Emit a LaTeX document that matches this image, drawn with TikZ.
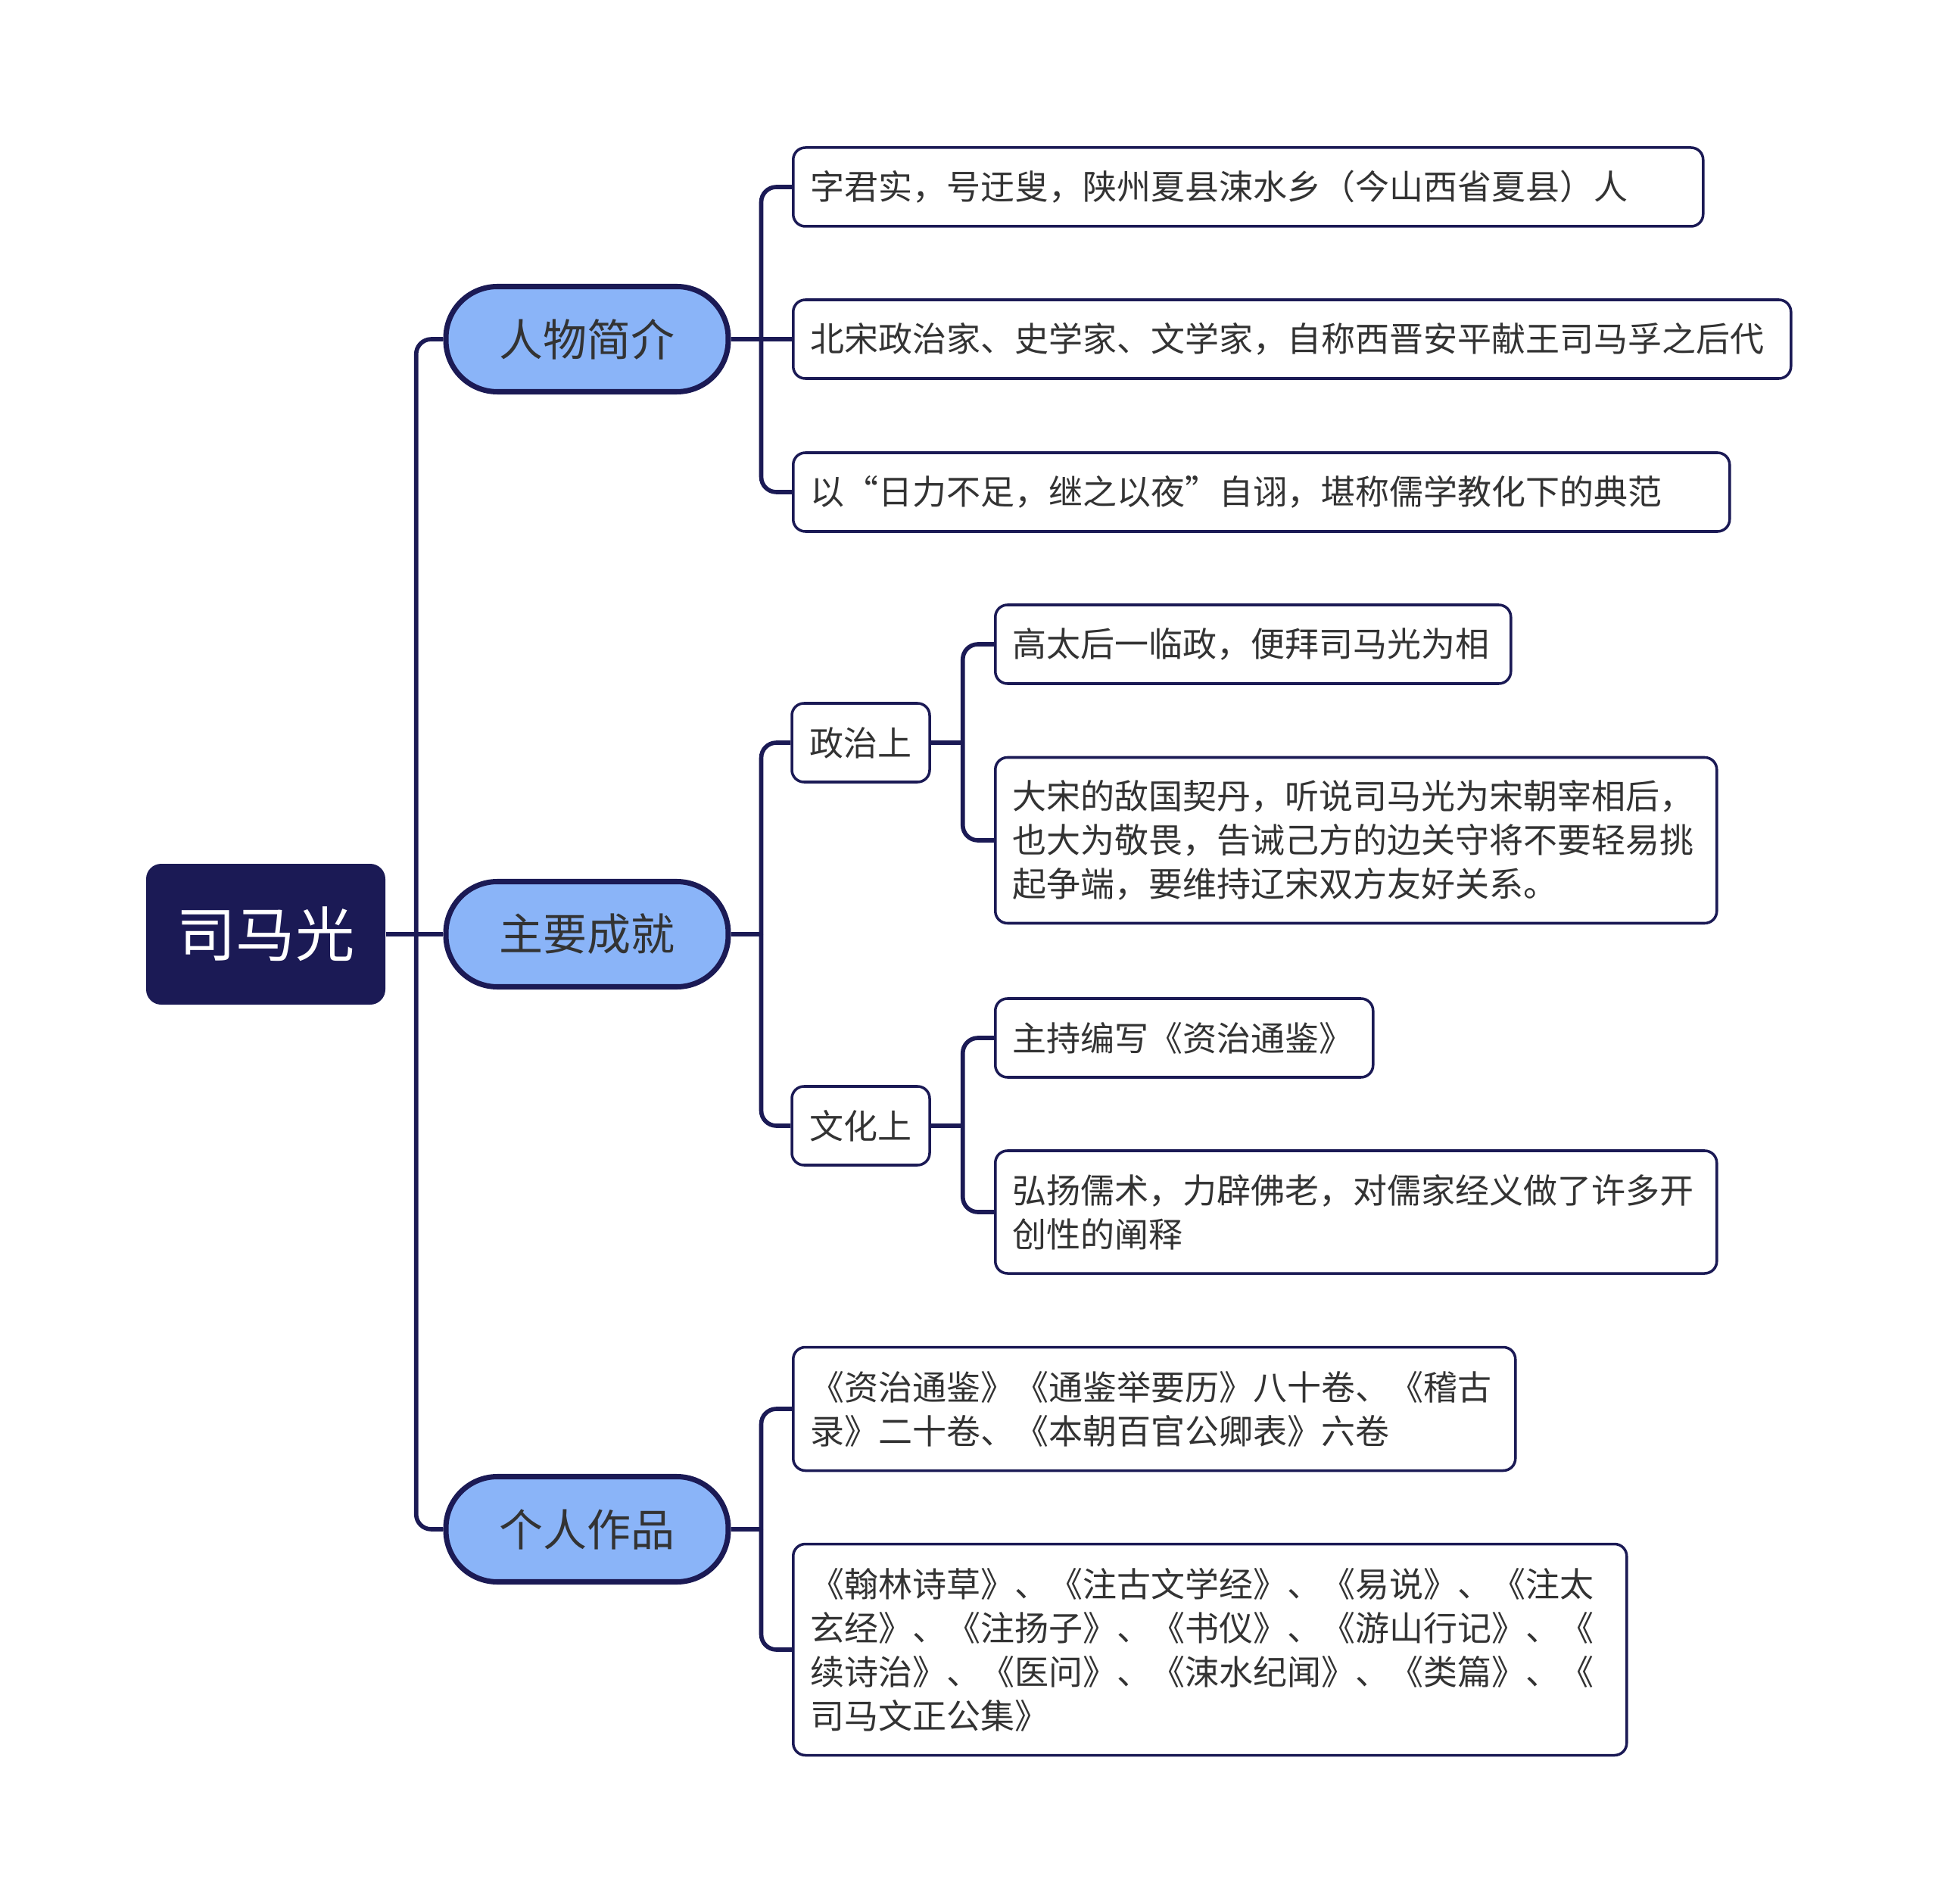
\documentclass[tikz,border=0pt]{standalone}
\usepackage{fontspec}
\newfontfamily\cjk{Noto Sans CJK SC}
\definecolor{navy}{HTML}{1B1A55}
\definecolor{pillblue}{HTML}{8AB4F8}
\definecolor{ink}{HTML}{333333}

\begin{document}
\begin{tikzpicture}[every node/.style={font=\cjk\fontsize{12.8}{16.5}\selectfont,text=ink},
  root/.style={fill=navy,rounded corners=0.2cm,minimum width=3.16cm,minimum height=1.86cm,text=white,font=\cjk\fontsize{22.3}{26}\selectfont},
  topic/.style={draw=navy,line width=2pt,fill=pillblue,rounded corners=0.68cm,minimum width=3.73cm,minimum height=1.39cm,font=\cjk\fontsize{16.5}{20}\selectfont},
  sub/.style={draw=navy,line width=1pt,fill=white,rounded corners=0.16cm,minimum width=1.82cm,minimum height=1.04cm},
  leaf/.style={draw=navy,line width=1pt,fill=white,rounded corners=0.16cm,anchor=west,align=left,inner xsep=0.23cm,minimum height=1.04cm},
  link/.style={draw=navy,line width=1.6pt,rounded corners=0.2cm}]
  \useasboundingbox (0,0) rectangle (25.6,-25.15);
  \node[root] (smg) at (3.51,-12.34) {司马光};
  \node[topic] (bio) at (7.755,-4.48) {人物简介};
  \node[topic] (ach) at (7.755,-12.34) {主要成就};
  \node[topic] (work) at (7.755,-20.20) {个人作品};
  \path (smg.east) ++(0.4,0) coordinate (j0);
  \draw[link] (smg.east) -- (j0);
  \draw[link] (j0) |- (bio.west);
  \draw[link] (j0) -- (ach.west);
  \draw[link] (j0) |- (work.west);
  % profile
  \node[leaf,text width=11.56cm] (b1) at (10.46,-2.47) {字君实，号迂叟，陕州夏县涑水乡（今山西省夏县）人};
  \node[leaf,text width=12.72cm] (b2) at (10.46,-4.48) {北宋政治家、史学家、文学家，自称西晋安平献王司马孚之后代};
  \node[leaf,text width=11.91cm] (b3) at (10.46,-6.50) {以“日力不足，继之以夜”自诩，堪称儒学教化下的典范};
  \path (bio.east) ++(0.4,0) coordinate (j1);
  \draw[link] (bio.east) -- (j1);
  \draw[link] (j1) |- (b1.west);
  \draw[link] (j1) -- (b2.west);
  \draw[link] (j1) |- (b3.west);
  % achievements
  \node[sub] (pol) at (11.37,-9.81) {政治上};
  \node[sub] (cul) at (11.37,-14.87) {文化上};
  \path (ach.east) ++(0.4,0) coordinate (j2);
  \draw[link] (ach.east) -- (j2);
  \draw[link] (j2) |- (pol.west);
  \draw[link] (j2) |- (cul.west);
  \node[leaf,text width=6.35cm] (g1) at (13.13,-8.51) {高太后一临政，便拜司马光为相};
  \node[leaf,text width=9.07cm,minimum height=2.19cm] (g2) at (13.13,-11.10) {大宋的敌国契丹，听说司马光为宋朝宰相后，\\也大为敬畏，告诫己方的边关守将不要轻易挑\\起争端，要维持辽宋双方友好关系。};
  \path (pol.east) ++(0.42,0) coordinate (j3);
  \draw[link] (pol.east) -- (j3);
  \draw[link] (j3) |- (g1.west);
  \draw[link] (j3) |- (g2.west);
  \node[leaf,text width=4.53cm] (k1) at (13.13,-13.71) {主持编写《资治通鉴》};
  \node[leaf,text width=9.07cm,minimum height=1.62cm] (k2) at (13.13,-16.01) {弘扬儒术，力辟佛老，对儒家经义做了许多开\\创性的阐释};
  \path (cul.east) ++(0.42,0) coordinate (j4);
  \draw[link] (cul.east) -- (j4);
  \draw[link] (j4) |- (k1.west);
  \draw[link] (j4) |- (k2.west);
  % works
  \node[leaf,text width=9.08cm,minimum height=1.63cm] (w1) at (10.46,-18.61) {《资治通鉴》《通鉴举要历》八十卷、《稽古\\录》二十卷、《本朝百官公卿表》六卷};
  \node[leaf,text width=10.55cm,minimum height=2.79cm] (w2) at (10.46,-21.79) {《翰林诗草》、《注古文学经》、《易说》、《注太\\玄经》、《注扬子》、《书仪》、《游山行记》、《\\续诗治》、《医问》、《涑水纪闻》、《类篇》、《\\司马文正公集》};
  \path (work.east) ++(0.4,0) coordinate (j5);
  \draw[link] (work.east) -- (j5);
  \draw[link] (j5) |- (w1.west);
  \draw[link] (j5) |- (w2.west);
\end{tikzpicture}
\end{document}
